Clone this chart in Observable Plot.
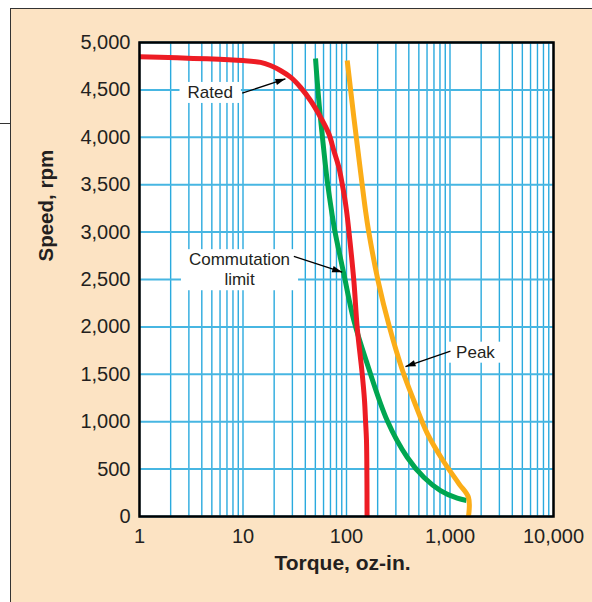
<!DOCTYPE html>
<html>
<head>
<meta charset="utf-8">
<script src="https://cdn.jsdelivr.net/npm/d3@7"></script>
<script src="https://cdn.jsdelivr.net/npm/@observablehq/plot@0.6"></script>
<style>
  html, body { margin: 0; padding: 0; background: #ffffff; width: 592px; height: 602px; overflow: hidden; }
  #panel { position: absolute; left: 10px; top: 8px; right: -5px; bottom: -5px;
           background: #fce3c3; border-left: 1.5px solid #333; border-top: 1.5px solid #333; }
  #stub { position: absolute; left: 0; top: 123px; width: 10px; height: 0; border-top: 1.2px solid #333; }
  #chart { position: absolute; left: 0; top: 0; }
</style>
</head>
<body>
<div id="panel"></div>
<div id="stub"></div>
<div id="chart"></div>
<script>
// ---- data (torque oz-in, speed rpm) ----
const ratedTorque = [1, 10, 14.8, 18.4, 23, 28.8, 35.9, 44.9, 56.1, 67.5, 75.4, 84.3, 90.8, 95.7, 100, 105.3, 117.7, 126.8, 141.8, 149.3, 152.7, 156, 157.5, 158];
const ratedSpeed  = [4850, 4810, 4790, 4757, 4705, 4634, 4528, 4388, 4212, 4037, 3861, 3685, 3510, 3368, 3228, 3017, 2489, 1997, 1505, 1224, 1013, 802, 400, 0];

const commTorque = [50.2, 54, 60.4, 65.1, 71.6, 77, 94.2, 117.7, 158.5, 247.3, 386, 558, 809, 1174, 1443];
const commSpeed  = [4831, 4388, 3861, 3544, 3228, 3017, 2560, 2068, 1611, 1013, 625, 414, 274, 193, 169];

const peakTorque = [101.6, 117.7, 135, 152.6, 163.2, 201.5, 260.3, 347.6, 446.9, 606.2, 855.9, 1222, 1509, 1509];
const peakSpeed  = [4810, 4212, 3685, 3228, 3017, 2489, 1997, 1540, 1224, 872, 591, 345, 200, 0];

const xTickValues = [1, 10, 100, 1000, 10000];
const yTickValues = [0, 500, 1000, 1500, 2000, 2500, 3000, 3500, 4000, 4500, 5000];
const xTitle = "Torque, oz-in.";
const yTitle = "Speed, rpm";

const calloutLabels = ["Rated", "Commutation\nlimit", "Peak"];
const calloutLabelX = [4.82, 9.25, 1763];
const calloutLabelY = [4483, 2613, 1743];
const arrowFromX = [9.83, 31.0, 1011];
const arrowFromY = [4465, 2743, 1744];
const arrowToX   = [25.7, 90.8, 371.5];
const arrowToY   = [4617, 2577, 1582];

// ---- build tables ----
const toRows = (xs, ys) => xs.map((x, i) => ({torque: x, speed: ys[i]}));
const rated = toRows(ratedTorque, ratedSpeed);
const comm = toRows(commTorque, commSpeed);
const peak = toRows(peakTorque, peakSpeed);
const callouts = calloutLabels.map((label, i) => ({
  label, lx: calloutLabelX[i], ly: calloutLabelY[i],
  x1: arrowFromX[i], y1: arrowFromY[i], x2: arrowToX[i], y2: arrowToY[i]
}));
const gridTorque = d3.scaleLog().domain([1, 10000]).ticks();

const gridBlue = "#2aaade";
const gridBlueH = "#47b6e2";
const ink = "#231f20";
const font = "'Liberation Sans', Arial, Helvetica, sans-serif";

const plot = Plot.plot({
  width: 592,
  height: 602,
  marginLeft: 139,
  marginRight: 39,
  marginTop: 42,
  marginBottom: 86,
  style: {background: "transparent", fontFamily: font, fontSize: "20px", color: ink, overflow: "visible"},
  x: {type: "log", domain: [1, 10000]},
  y: {domain: [0, 5000]},
  marks: [
    Plot.frame({fill: "white"}),
    Plot.ruleX(gridTorque, {stroke: gridBlue, strokeWidth: 1.4}),
    Plot.ruleY(yTickValues, {stroke: gridBlueH, strokeWidth: 2}),
    Plot.line(comm, {x: "torque", y: "speed", stroke: "#00a651", strokeWidth: 5, curve: "catmull-rom", strokeLinecap: "butt"}),
    Plot.line(peak, {x: "torque", y: "speed", stroke: "#fbad18", strokeWidth: 5, curve: "catmull-rom", strokeLinecap: "butt", strokeLinejoin: "miter"}),
    Plot.line(rated, {x: "torque", y: "speed", stroke: "#ed1c24", strokeWidth: 5, curve: "catmull-rom", strokeLinecap: "butt"}),
    Plot.text(callouts, {x: "lx", y: "ly", text: "label", fontSize: 17, lineHeight: 1.18, fill: ink, ariaLabel: "callout"}),
    Plot.link(callouts, {x1: "x1", y1: "y1", x2: "x2", y2: "y2", stroke: "#000", strokeWidth: 1.3, markerEnd: "arrow"}),
    Plot.frame({stroke: "#000", strokeWidth: 2.5}),
    Plot.axisX({ticks: xTickValues, tickFormat: d3.format(","), tickSize: 0, tickPadding: 12, label: null, fill: ink}),
    Plot.axisY({ticks: yTickValues, tickFormat: d3.format(","), tickSize: 0, tickPadding: 9, label: null, fill: ink}),
    Plot.text([xTitle], {text: d => d, frameAnchor: "bottom", dx: -4, dy: 53.5, fontWeight: "bold", fontSize: 21, fill: ink}),
    Plot.text([yTitle], {text: d => d, frameAnchor: "left", dx: -93.5, dy: -18, rotate: -90, fontWeight: "bold", fontSize: 20.5, fill: ink})
  ]
});

document.getElementById("chart").append(plot);

// white boxes behind callout labels
const SVGNS = "http://www.w3.org/2000/svg";
let calloutTexts = [];
const cg = plot.querySelector('g[aria-label="callout"]');
if (cg) calloutTexts = Array.from(cg.querySelectorAll("text"));
else {
  const wanted = calloutLabels.map(s => s.replace("\n", ""));
  calloutTexts = Array.from(plot.querySelectorAll("text")).filter(t => wanted.includes(t.textContent));
}
calloutTexts.forEach(t => {
  const b = t.getBBox();
  const r = document.createElementNS(SVGNS, "rect");
  r.setAttribute("x", b.x - 8);
  r.setAttribute("y", b.y - 1);
  r.setAttribute("width", b.width + 16);
  r.setAttribute("height", b.height + 2);
  r.setAttribute("fill", "white");
  if (t.getAttribute("transform")) r.setAttribute("transform", t.getAttribute("transform"));
  t.parentNode.insertBefore(r, t);
});

// filled arrowheads
plot.querySelectorAll("marker").forEach(m => {
  const color = m.getAttribute("stroke") || "#000";
  m.setAttribute("viewBox", "-11 -5 12 10");
  m.setAttribute("markerUnits", "userSpaceOnUse");
  m.setAttribute("markerWidth", 12);
  m.setAttribute("markerHeight", 10);
  m.setAttribute("fill", color);
  m.setAttribute("stroke", "none");
  while (m.firstChild) m.removeChild(m.firstChild);
  const p = document.createElementNS(SVGNS, "path");
  p.setAttribute("d", "M-10,-3.2L0,0L-10,3.2Z");
  m.appendChild(p);
});
</script>
</body>
</html>
